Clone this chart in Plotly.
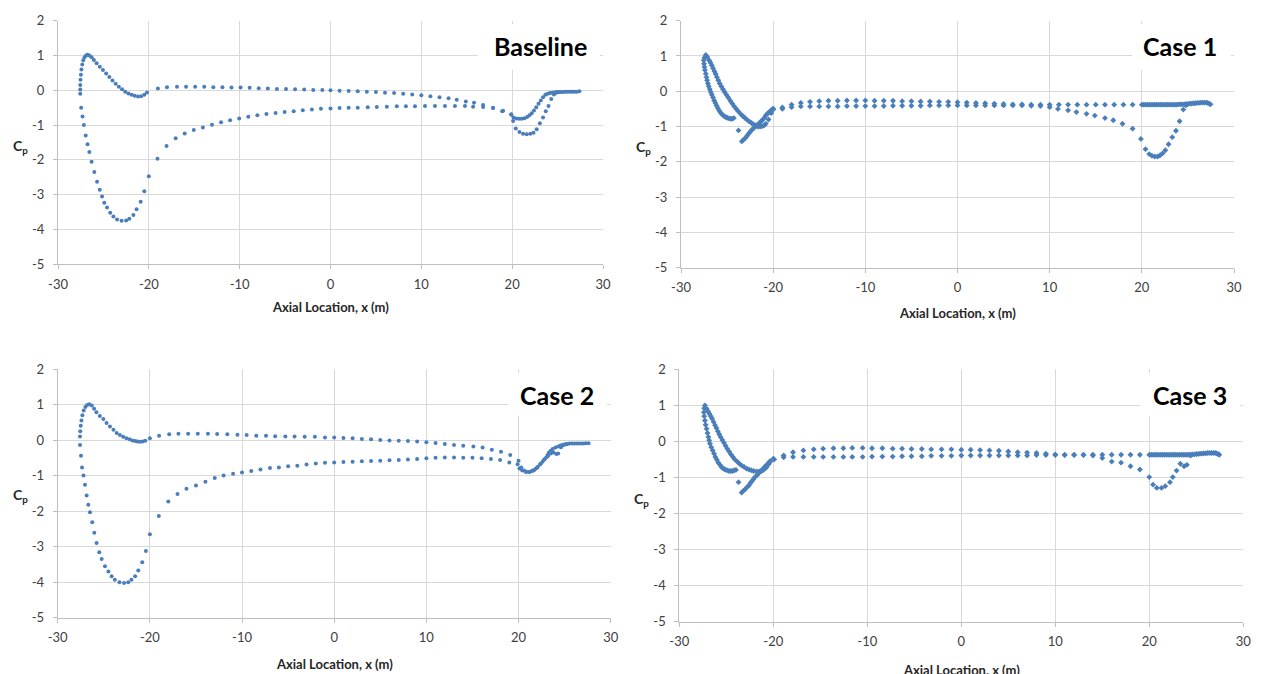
import plotly.graph_objects as go

# ---------------- data ----------------
PANEL_TITLES = ["Baseline", "Case 1", "Case 2", "Case 3"]
X_TICKS = [-30, -20, -10, 0, 10, 20, 30]
X_TICK_LABELS = ["-30", "-20", "-10", "0", "10", "20", "30"]
Y_TICKS = [-5, -4, -3, -2, -1, 0, 1, 2]
Y_TICK_LABELS = ["-5", "-4", "-3", "-2", "-1", "0", "1", "2"]

BASELINE_UPPER = [
    (-27.55, 0.02), (-27.55, 0.15), (-27.52, 0.30), (-27.48, 0.45), (-27.42, 0.60), (-27.33, 0.74),
    (-27.22, 0.86), (-27.08, 0.95), (-26.92, 1.00), (-26.75, 1.02), (-26.55, 1.00), (-26.30, 0.95),
    (-26.05, 0.87), (-25.75, 0.78), (-25.40, 0.68), (-25.05, 0.58), (-24.70, 0.48), (-24.35, 0.38),
    (-24.00, 0.28), (-23.65, 0.19), (-23.30, 0.10), (-22.95, 0.03), (-22.60, -0.04), (-22.25, -0.09),
    (-21.90, -0.13), (-21.55, -0.16), (-21.20, -0.18), (-20.85, -0.17), (-20.50, -0.13), (-20.20, -0.06),
    (-19.0, 0.05), (-18.0, 0.09), (-16.9, 0.10), (-15.9, 0.10), (-14.9, 0.10), (-13.9, 0.10),
    (-12.9, 0.09), (-11.9, 0.09), (-10.9, 0.08), (-9.9, 0.08), (-8.9, 0.07), (-7.9, 0.06),
    (-6.9, 0.05), (-5.9, 0.04), (-4.9, 0.04), (-3.9, 0.03), (-2.9, 0.02), (-1.9, 0.01),
    (-0.9, 0.01), (0.0, 0.00), (1.0, -0.01), (2.0, -0.02), (3.0, -0.03), (4.0, -0.04),
    (5.0, -0.05), (6.0, -0.07), (7.0, -0.08), (8.0, -0.10), (9.0, -0.12), (10.0, -0.14),
    (11.0, -0.17), (12.0, -0.20), (13.0, -0.23), (13.9, -0.27), (14.9, -0.32), (15.8, -0.36),
    (16.8, -0.42), (17.9, -0.50), (18.9, -0.60), (19.9, -0.70), (20.15, -0.78), (20.45, -0.81),
    (20.75, -0.82), (21.05, -0.82), (21.35, -0.80), (21.65, -0.77), (21.9, -0.72), (22.15, -0.66),
    (22.4, -0.58), (22.65, -0.49), (22.9, -0.39), (23.15, -0.29), (23.4, -0.20), (23.65, -0.13),
    (23.9, -0.10), (24.15, -0.08), (24.4, -0.07), (24.65, -0.06), (24.9, -0.05), (25.15, -0.05),
    (25.4, -0.05), (25.65, -0.05), (25.9, -0.04), (26.15, -0.04), (26.4, -0.04), (26.65, -0.04),
    (26.9, -0.04), (27.15, -0.04), (27.4, -0.03),
]
BASELINE_LOWER = [
    (-27.55, -0.10), (-27.45, -0.50), (-27.30, -0.75), (-27.15, -1.00), (-26.95, -1.30), (-26.75, -1.55),
    (-26.55, -1.77), (-26.30, -2.05), (-26.00, -2.35), (-25.70, -2.63), (-25.40, -2.86), (-25.15, -3.05),
    (-24.90, -3.23), (-24.60, -3.37), (-24.25, -3.52), (-23.90, -3.63), (-23.50, -3.71), (-23.00, -3.75),
    (-22.50, -3.74), (-22.15, -3.69), (-21.70, -3.58), (-21.35, -3.42), (-20.90, -3.20), (-20.50, -2.90),
    (-20.00, -2.47), (-19.05, -1.97), (-18.05, -1.60), (-17.05, -1.38), (-16.05, -1.24), (-15.05, -1.14),
    (-14.05, -1.07), (-13.05, -0.99), (-12.05, -0.92), (-11.05, -0.86), (-10.05, -0.81), (-9.05, -0.76),
    (-8.05, -0.72), (-7.05, -0.68), (-6.05, -0.65), (-5.05, -0.62), (-4.05, -0.60), (-3.05, -0.57),
    (-2.05, -0.55), (-1.05, -0.53), (0.0, -0.52), (1.0, -0.51), (2.0, -0.50), (3.0, -0.50),
    (4.1, -0.49), (5.1, -0.48), (6.2, -0.47), (7.3, -0.46), (8.3, -0.46), (9.3, -0.46),
    (10.4, -0.45), (11.5, -0.45), (12.6, -0.45), (13.7, -0.45), (14.8, -0.45), (15.7, -0.47),
    (16.8, -0.48), (17.9, -0.51), (19.0, -0.59), (19.9, -0.69), (20.1, -0.88), (20.4, -1.10),
    (20.8, -1.20), (21.2, -1.25), (21.6, -1.26), (22.0, -1.25), (22.35, -1.22), (22.7, -1.12),
    (23.05, -0.95), (23.4, -0.78), (23.7, -0.60), (24.0, -0.45), (24.3, -0.25), (24.6, -0.12),
    (24.9, -0.07), (25.2, -0.05),
]

CASE1_UPPER = [
    (-27.31, 1.03), (-27.15, 0.97), (-26.95, 0.88), (-26.80, 0.81), (-26.65, 0.73), (-26.52, 0.65),
    (-26.38, 0.57), (-26.24, 0.49), (-26.10, 0.40), (-25.95, 0.31), (-25.80, 0.22), (-25.63, 0.14),
    (-25.45, 0.06), (-25.27, -0.02), (-25.07, -0.10), (-24.87, -0.18), (-24.65, -0.27), (-24.44, -0.35),
    (-24.22, -0.43), (-24.01, -0.50), (-23.78, -0.57), (-23.55, -0.64), (-23.30, -0.70), (-23.08, -0.75),
    (-22.83, -0.81), (-22.58, -0.86), (-22.35, -0.90), (-22.11, -0.94), (-21.88, -0.97), (-21.65, -1.00),
    (-21.43, -1.00), (-21.22, -0.99), (-21.00, -0.97), (-20.79, -0.92), (-20.50, -0.80), (-20.20, -0.62),
    (-20.00, -0.52), (-19.0, -0.46), (-18.0, -0.38), (-17.0, -0.33), (-16.0, -0.30), (-15.0, -0.28),
    (-14.0, -0.27), (-13.0, -0.27), (-12.0, -0.26), (-11.0, -0.26), (-10.0, -0.26), (-9.0, -0.27),
    (-8.0, -0.27), (-7.0, -0.27), (-6.0, -0.28), (-5.0, -0.28), (-4.0, -0.29), (-3.0, -0.29),
    (-2.0, -0.30), (-1.0, -0.30), (0.0, -0.31), (1.0, -0.32), (2.0, -0.33), (3.0, -0.34),
    (4.0, -0.35), (5.0, -0.36), (6.0, -0.37), (7.0, -0.37), (8.0, -0.38), (9.0, -0.38),
    (10.0, -0.38), (11.0, -0.38), (12.0, -0.38), (13.0, -0.38), (14.0, -0.38), (15.0, -0.38),
    (16.0, -0.38), (17.0, -0.38), (18.0, -0.38), (19.0, -0.38), (20.0, -0.38), (20.2, -0.38),
    (20.4, -0.38), (20.6, -0.38), (20.8, -0.38), (21.0, -0.38), (21.2, -0.38), (21.4, -0.38),
    (21.6, -0.38), (21.8, -0.38), (22.0, -0.38), (22.2, -0.38), (22.4, -0.38), (22.6, -0.38),
    (22.8, -0.38), (23.0, -0.38), (23.2, -0.38), (23.4, -0.38), (23.6, -0.38), (23.8, -0.38),
    (24.0, -0.37), (24.2, -0.37), (24.4, -0.37), (24.6, -0.37), (24.8, -0.36), (25.0, -0.36),
    (25.2, -0.35), (25.4, -0.35), (25.6, -0.34), (25.8, -0.34), (26.0, -0.33), (26.2, -0.33),
    (26.4, -0.32), (26.6, -0.32), (26.8, -0.32), (27.0, -0.32), (27.15, -0.33), (27.3, -0.35),
    (27.45, -0.37),
]
CASE1_LOWER = [
    (-27.45, 0.95), (-27.53, 0.88), (-27.50, 0.78), (-27.46, 0.69), (-27.40, 0.60), (-27.31, 0.50),
    (-27.24, 0.40), (-27.17, 0.31), (-27.08, 0.22), (-26.99, 0.14), (-26.88, 0.06), (-26.77, -0.02),
    (-26.65, -0.10), (-26.52, -0.18), (-26.40, -0.26), (-26.27, -0.33), (-26.13, -0.41), (-25.99, -0.48),
    (-25.85, -0.55), (-25.70, -0.61), (-25.52, -0.66), (-25.34, -0.70), (-25.16, -0.73), (-24.98, -0.75),
    (-24.80, -0.77), (-24.62, -0.78), (-24.45, -0.78), (-24.27, -0.76),
    (-23.76, -1.11), (-23.40, -1.42), (-23.20, -1.37), (-23.00, -1.32), (-22.82, -1.26), (-22.65, -1.20),
    (-22.47, -1.14), (-22.30, -1.09), (-22.10, -1.04), (-21.93, -1.00), (-21.70, -0.95), (-21.50, -0.90),
    (-21.30, -0.85), (-21.15, -0.81), (-20.95, -0.75), (-20.79, -0.68), (-20.60, -0.63), (-20.43, -0.59),
    (-20.20, -0.53), (-20.00, -0.49), (-19.0, -0.50), (-18.0, -0.45), (-17.0, -0.43), (-16.0, -0.43),
    (-15.0, -0.43), (-14.0, -0.43), (-13.0, -0.43), (-12.0, -0.42), (-11.0, -0.42), (-10.0, -0.42),
    (-9.0, -0.42), (-8.0, -0.42), (-7.0, -0.41), (-6.0, -0.41), (-5.0, -0.41), (-4.0, -0.41),
    (-3.0, -0.40), (-2.0, -0.40), (-1.0, -0.40), (0.0, -0.40), (1.0, -0.40), (2.0, -0.40),
    (3.0, -0.40), (4.0, -0.40), (5.0, -0.40), (6.0, -0.40), (7.0, -0.40), (8.0, -0.41),
    (9.0, -0.42), (10.0, -0.45), (10.9, -0.50), (12.0, -0.54), (12.9, -0.59), (14.0, -0.64),
    (14.9, -0.69), (16.0, -0.76), (16.9, -0.82), (17.9, -0.92), (19.0, -1.06), (19.9, -1.35),
    (20.4, -1.64), (20.8, -1.78), (21.1, -1.83), (21.4, -1.85), (21.7, -1.85), (21.95, -1.82),
    (22.25, -1.76), (22.55, -1.67), (22.9, -1.50), (23.3, -1.30), (23.7, -1.12), (24.1, -0.85),
    (24.5, -0.52), (24.8, -0.40),
]

CASE2_UPPER = [
    (-27.58, 0.10), (-27.55, 0.25), (-27.50, 0.40), (-27.42, 0.55), (-27.32, 0.70), (-27.18, 0.83),
    (-27.00, 0.93), (-26.80, 0.99), (-26.57, 1.01), (-26.30, 0.97), (-26.05, 0.88), (-25.80, 0.78),
    (-25.43, 0.68), (-25.05, 0.59), (-24.70, 0.48), (-24.33, 0.38), (-23.95, 0.29), (-23.60, 0.20),
    (-23.25, 0.14), (-22.90, 0.09), (-22.55, 0.05), (-22.20, 0.02), (-21.90, -0.01), (-21.60, -0.03),
    (-21.35, -0.04), (-21.10, -0.05), (-20.80, -0.04), (-20.50, -0.02), (-20.00, 0.05), (-19.0, 0.12),
    (-17.9, 0.16), (-16.9, 0.18), (-15.85, 0.18), (-14.8, 0.18), (-13.7, 0.18), (-12.7, 0.17),
    (-11.6, 0.16), (-10.5, 0.15), (-9.5, 0.14), (-8.45, 0.12), (-7.4, 0.12), (-6.4, 0.11),
    (-5.3, 0.10), (-4.3, 0.10), (-3.2, 0.09), (-2.1, 0.09), (-1.0, 0.07), (0.0, 0.07),
    (1.0, 0.06), (2.0, 0.05), (3.0, 0.03), (4.0, 0.02), (5.0, 0.00), (6.0, -0.01),
    (7.0, -0.02), (8.0, -0.03), (9.0, -0.04), (10.0, -0.06), (11.0, -0.08), (12.0, -0.11),
    (13.0, -0.14), (14.0, -0.16), (15.1, -0.18), (16.1, -0.21), (17.1, -0.27), (18.1, -0.33),
    (19.1, -0.42), (20.0, -0.58), (20.3, -0.77), (20.6, -0.86), (20.9, -0.89), (21.2, -0.89),
    (21.45, -0.87), (21.7, -0.84), (21.9, -0.80), (22.1, -0.75), (22.35, -0.68), (22.6, -0.61),
    (22.8, -0.55), (23.0, -0.49), (23.15, -0.42), (23.3, -0.35), (23.5, -0.30), (23.7, -0.25),
    (24.0, -0.21), (24.3, -0.18), (24.55, -0.15), (24.8, -0.13), (25.05, -0.12), (25.3, -0.11),
    (25.55, -0.10), (25.8, -0.10), (26.05, -0.10), (26.3, -0.10), (26.55, -0.10), (26.8, -0.10),
    (27.05, -0.10), (27.3, -0.09), (27.6, -0.09),
]
CASE2_LOWER = [
    (-27.58, -0.14), (-27.47, -0.44), (-27.36, -0.77), (-27.20, -1.00), (-27.04, -1.26), (-26.86, -1.56),
    (-26.68, -1.82), (-26.50, -2.03), (-26.25, -2.31), (-26.03, -2.61), (-25.78, -2.90), (-25.49, -3.16),
    (-25.23, -3.35), (-24.87, -3.55), (-24.50, -3.70), (-24.15, -3.83), (-23.80, -3.93), (-23.30, -4.00),
    (-22.80, -4.02), (-22.35, -4.00), (-22.00, -3.93), (-21.60, -3.83), (-21.26, -3.67), (-20.83, -3.44),
    (-20.43, -3.12), (-20.00, -2.65), (-19.03, -2.14), (-18.00, -1.73), (-17.00, -1.52), (-16.03, -1.37),
    (-15.00, -1.28), (-13.97, -1.17), (-12.96, -1.07), (-12.00, -1.00), (-10.97, -0.95), (-10.00, -0.91),
    (-9.0, -0.87), (-8.0, -0.83), (-6.97, -0.79), (-6.0, -0.77), (-5.0, -0.74), (-4.0, -0.72),
    (-3.0, -0.69), (-2.0, -0.66), (-1.0, -0.64), (0.0, -0.63), (1.0, -0.62), (2.0, -0.61),
    (3.0, -0.60), (4.0, -0.59), (5.0, -0.58), (6.0, -0.57), (7.0, -0.56), (8.0, -0.55),
    (9.0, -0.53), (10.0, -0.51), (11.0, -0.50), (12.0, -0.49), (13.0, -0.49), (14.0, -0.50),
    (15.0, -0.50), (16.0, -0.51), (17.0, -0.53), (18.0, -0.56), (19.0, -0.63), (19.9, -0.68),
    (20.1, -0.80), (20.4, -0.86), (20.8, -0.90), (21.2, -0.90), (21.6, -0.86), (22.0, -0.78),
    (22.4, -0.67), (22.8, -0.55), (23.2, -0.45), (23.5, -0.38), (23.8, -0.35), (24.1, -0.39),
    (24.3, -0.38), (24.6, -0.20), (24.9, -0.14), (25.2, -0.12),
]

CASE3_UPPER = [
    (-27.27, 1.00), (-27.10, 0.91), (-26.95, 0.84), (-26.80, 0.77), (-26.65, 0.70), (-26.50, 0.63),
    (-26.35, 0.54), (-26.20, 0.45), (-26.05, 0.37), (-25.90, 0.28), (-25.75, 0.20), (-25.60, 0.12),
    (-25.42, 0.04), (-25.25, -0.04), (-25.08, -0.12), (-24.90, -0.20), (-24.70, -0.28), (-24.50, -0.36),
    (-24.30, -0.43), (-24.10, -0.50), (-23.85, -0.56), (-23.60, -0.62), (-23.35, -0.67), (-23.10, -0.71),
    (-22.85, -0.75), (-22.60, -0.78), (-22.35, -0.80), (-22.10, -0.82), (-21.80, -0.83), (-21.50, -0.83),
    (-21.30, -0.82), (-21.10, -0.80), (-20.90, -0.76), (-20.70, -0.71), (-20.50, -0.63), (-20.35, -0.57),
    (-20.00, -0.48), (-18.9, -0.39), (-17.9, -0.30), (-16.8, -0.25), (-15.7, -0.22), (-14.7, -0.20),
    (-13.6, -0.19), (-12.55, -0.19), (-11.6, -0.18), (-10.5, -0.18), (-9.5, -0.19), (-8.4, -0.19),
    (-7.3, -0.20), (-6.3, -0.20), (-5.3, -0.21), (-4.2, -0.21), (-3.2, -0.22), (-2.1, -0.22),
    (-1.06, -0.22), (0.0, -0.23), (1.0, -0.23), (2.0, -0.24), (3.0, -0.25), (4.0, -0.26),
    (5.0, -0.28), (6.0, -0.30), (7.0, -0.31), (8.0, -0.32), (9.0, -0.34), (10.0, -0.36),
    (11.0, -0.37), (12.0, -0.37), (13.0, -0.37), (14.0, -0.37), (15.0, -0.37), (16.0, -0.37),
    (17.0, -0.37), (18.0, -0.37), (19.0, -0.37), (20.0, -0.37), (20.2, -0.37), (20.4, -0.37),
    (20.6, -0.37), (20.8, -0.37), (21.0, -0.37), (21.2, -0.37), (21.4, -0.37), (21.6, -0.37),
    (21.8, -0.37), (22.0, -0.37), (22.2, -0.37), (22.4, -0.37), (22.6, -0.37), (22.8, -0.37),
    (23.0, -0.37), (23.2, -0.37), (23.4, -0.37), (23.6, -0.37), (23.8, -0.37), (24.0, -0.37),
    (24.2, -0.37), (24.4, -0.36), (24.6, -0.36), (24.8, -0.36), (25.0, -0.35), (25.2, -0.35),
    (25.4, -0.34), (25.6, -0.34), (25.8, -0.33), (26.0, -0.33), (26.2, -0.32), (26.4, -0.32),
    (26.6, -0.32), (26.8, -0.32), (27.0, -0.32), (27.15, -0.33), (27.3, -0.35), (27.45, -0.37),
]
CASE3_LOWER = [
    (-27.35, 0.92), (-27.38, 0.81), (-27.35, 0.70), (-27.27, 0.58), (-27.20, 0.46), (-27.10, 0.35),
    (-27.00, 0.23), (-26.90, 0.12), (-26.82, 0.03), (-26.74, -0.06), (-26.60, -0.16), (-26.45, -0.25),
    (-26.30, -0.34), (-26.17, -0.43), (-26.00, -0.51), (-25.85, -0.59), (-25.68, -0.65), (-25.50, -0.71),
    (-25.32, -0.75), (-25.14, -0.78), (-24.93, -0.80), (-24.72, -0.82), (-24.52, -0.82), (-24.33, -0.82),
    (-24.15, -0.80), (-23.97, -0.79),
    (-23.70, -1.13), (-23.37, -1.42), (-23.18, -1.37), (-23.00, -1.33), (-22.80, -1.27), (-22.60, -1.22),
    (-22.45, -1.16), (-22.30, -1.11), (-22.12, -1.05), (-21.95, -0.99), (-21.72, -0.93), (-21.50, -0.87),
    (-21.30, -0.82), (-21.10, -0.76), (-20.90, -0.70), (-20.70, -0.65), (-20.50, -0.59), (-20.35, -0.55),
    (-19.9, -0.50), (-18.9, -0.44), (-17.9, -0.43), (-16.8, -0.43), (-15.7, -0.43), (-14.7, -0.43),
    (-13.6, -0.43), (-12.55, -0.43), (-11.6, -0.43), (-10.5, -0.43), (-9.5, -0.42), (-8.4, -0.42),
    (-7.3, -0.42), (-6.3, -0.41), (-5.3, -0.41), (-4.2, -0.41), (-3.2, -0.40), (-2.1, -0.40),
    (-1.06, -0.40), (0.0, -0.39), (1.0, -0.39), (2.0, -0.39), (3.0, -0.39), (4.0, -0.39),
    (5.0, -0.39), (6.0, -0.39), (7.0, -0.39), (8.0, -0.38), (9.0, -0.38), (10.0, -0.38),
    (11.0, -0.38), (12.0, -0.38), (13.0, -0.38), (14.0, -0.39), (15.0, -0.46), (16.0, -0.56),
    (17.0, -0.59), (18.0, -0.69), (19.0, -0.78), (20.0, -0.99), (20.4, -1.20), (20.8, -1.29),
    (21.3, -1.29), (21.7, -1.24), (22.2, -1.13), (22.5, -0.99), (22.9, -0.81), (23.3, -0.62),
    (23.7, -0.69), (24.0, -0.65), (24.4, -0.39),
]

PANEL_DATA = [
    (BASELINE_UPPER, BASELINE_LOWER),
    (CASE1_UPPER, CASE1_LOWER),
    (CASE2_UPPER, CASE2_LOWER),
    (CASE3_UPPER, CASE3_LOWER),
]

# ---------------- layout helpers ----------------
W, H = 1264, 674


def fx(px):
    return px / W


def fy(py):
    return 1 - py / H


# plot-area pixel boxes (left, right, top, bottom)
BOXES = [
    (58.0, 603.0, 20.7, 264.3),
    (681.0, 1234.0, 20.7, 267.7),
    (57.7, 610.7, 369.0, 617.7),
    (679.3, 1243.3, 369.3, 621.7),
]
MARKER_SYMBOLS = ["circle", "diamond", "circle", "diamond"]
MARKER_SIZES = [4, 4.5, 4, 4.5]
TITLE_POS = [(540, 46), (1180, 46), (557, 394.5), (1190, 394.5)]
TITLE_BOX = [(478, 600, 24, 70), (1132, 1231, 24, 70), (508, 607, 373, 416), (1140, 1240, 373, 416)]
CP_POS = [(20, 146), (643, 147), (20, 495), (641, 499)]
XTITLE_POS = [(330, 307), (957, 313), (334, 664), (961, 670)]

BLUE = "#4a7ebb"
GRID = "#d9d9d9"
AXIS = "#bfbfbf"
FONT = "Lato, Carlito, 'Liberation Sans', sans-serif"

fig = go.Figure()
layout = dict(
    width=W, height=H,
    margin=dict(l=0, r=0, t=0, b=0, autoexpand=False),
    paper_bgcolor="white", plot_bgcolor="white",
    showlegend=False,
    font=dict(family=FONT, color="#404040"),
)
shapes, annotations = [], []

for i, (upper, lower) in enumerate(PANEL_DATA):
    n = "" if i == 0 else str(i + 1)
    xa, ya = "x" + n, "y" + n
    for surf in (upper, lower):
        fig.add_trace(go.Scatter(
            x=[p[0] for p in surf], y=[p[1] for p in surf],
            mode="markers", xaxis=xa, yaxis=ya,
            marker=dict(symbol=MARKER_SYMBOLS[i], size=MARKER_SIZES[i], color=BLUE,
                        line=dict(width=0)),
            hoverinfo="x+y",
        ))
    l, r, t, b = BOXES[i]
    layout["xaxis" + n] = dict(
        domain=[fx(l), fx(r)], anchor=ya, range=[-30, 30],
        tickvals=X_TICKS, ticktext=X_TICK_LABELS,
        showgrid=True, gridcolor=GRID, gridwidth=1,
        zeroline=False, showline=True, linecolor=AXIS, linewidth=1,
        ticks="outside", ticklen=4, tickcolor=AXIS, automargin=False,
        tickfont=dict(family=FONT, size=13, color="#404040"),
        ticklabelstandoff=4, fixedrange=True,
    )
    layout["yaxis" + n] = dict(
        domain=[fy(b), fy(t)], anchor=xa, range=[-5, 2],
        tickvals=Y_TICKS, ticktext=Y_TICK_LABELS,
        showgrid=True, gridcolor=GRID, gridwidth=1,
        zeroline=False, showline=True, linecolor=AXIS, linewidth=1,
        ticks="outside", ticklen=4, tickcolor=AXIS, automargin=False,
        tickfont=dict(family=FONT, size=13, color="#404040"),
        ticklabelstandoff=6, fixedrange=True,
    )
    bx0, bx1, by0, by1 = TITLE_BOX[i]
    shapes.append(dict(type="rect", xref="paper", yref="paper",
                       x0=fx(bx0), x1=fx(bx1), y0=fy(by1), y1=fy(by0),
                       fillcolor="white", line=dict(width=0), layer="above"))
    tx, ty = TITLE_POS[i]
    annotations.append(dict(text="<b>%s</b>" % PANEL_TITLES[i], xref="paper", yref="paper",
                            x=fx(tx), y=fy(ty), xanchor="center", yanchor="middle",
                            showarrow=False, font=dict(family=FONT, size=25, color="black")))
    cx, cy = CP_POS[i]
    annotations.append(dict(text="<b>C<sub>p</sub></b>", xref="paper", yref="paper",
                            x=fx(cx), y=fy(cy), xanchor="center", yanchor="middle",
                            showarrow=False, font=dict(family=FONT, size=14, color="#262626")))
    ax, ay = XTITLE_POS[i]
    annotations.append(dict(text="<b>Axial Location, x (m)</b>", xref="paper", yref="paper",
                            x=fx(ax), y=fy(ay), xanchor="center", yanchor="middle",
                            showarrow=False, font=dict(family=FONT, size=13, color="#262626")))

layout["shapes"] = shapes
layout["annotations"] = annotations
fig.update_layout(**layout)
fig.write_html(
    "out.html",
    config={"displayModeBar": False},
    post_script="document.body.style.margin='0';document.body.style.padding='0';"
                "document.body.style.overflow='hidden';",
)
